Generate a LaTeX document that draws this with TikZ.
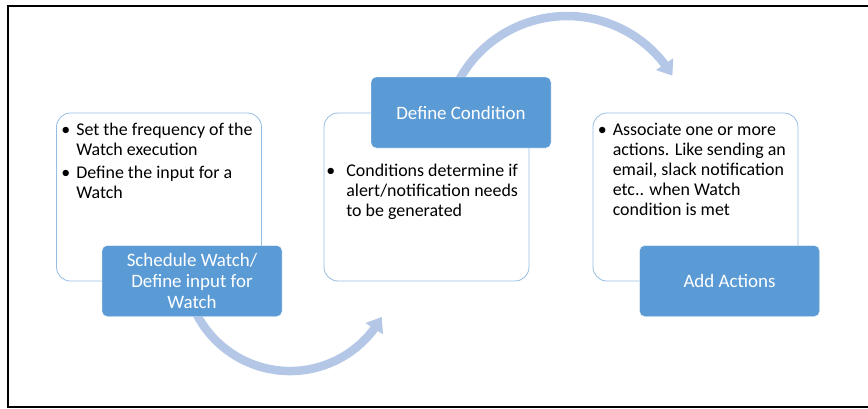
\documentclass[tikz,border=0pt]{standalone}
\usepackage{fontspec}
\setmainfont{Carlito}
\usetikzlibrary{positioning,arrows.meta,bending}

\definecolor{stepblue}{RGB}{91,155,213}
\definecolor{edgeblue}{RGB}{150,189,226}
\definecolor{flowblue}{RGB}{180,199,231}

% bullet and hanging indent for the note lists
\newcommand{\bul}[1][15bp]{\makebox[#1][l]{\textbullet}}
\newcommand{\ind}[1][15bp]{\hspace*{#1}}

\begin{document}
\begin{tikzpicture}[x=1bp, y=1bp,
    panel/.style={rectangle, draw=edgeblue, line width=0.8bp, rounded corners=14bp, minimum width=205bp, minimum height=168bp},
    stage/.style={rectangle, draw=white, fill=stepblue, rounded corners=5bp, minimum width=180bp, minimum height=71bp, text=white, align=center, font=\fontsize{19}{21}\selectfont},
    notes/.style={inner sep=0pt, align=left, font=\fontsize{18}{20}\selectfont},
    flow/.style={draw=flowblue, line width=8.5bp, -{Triangle[width=20bp,length=14bp,flex]}}
]
\useasboundingbox (0,0) rectangle (868,-408);

% frame, open on the right
\draw[line width=2bp] (868,-5.5) -- (7.5,-5.5) -- (7.5,-406.5) -- (868,-406.5);

% panels behind the steps
\node[panel] (schedbox) at (159,-197) {};
\node[panel] (condbox)  at (426.5,-197) {};
\node[panel] (actbox)   at (695.5,-197) {};

\node[notes, below right=10.5bp and 5bp of schedbox.north west] (schednotes)
  {\bul Set the frequency of the\\ \ind Watch execution\\[3bp]
   \bul Define the input for a\\ \ind Watch};
\node[notes, below right=51.5bp and 2.5bp of condbox.north west] (condnotes)
  {\bul[16bp] Conditions determine if\\ \ind[16bp] alert/notification needs\\ \ind[16bp] to be generated};
\node[notes, below right=10.5bp and 5bp of actbox.north west] (actnotes)
  {\bul Associate one or more\\ \ind actions. Like sending an\\ \ind email, slack notification\\
   \ind etc.. when Watch\\ \ind condition is met};

% curved arrows between the steps
\coordinate (lowstart)  at (194.8,-310.4);
\coordinate (highstart) at (458.4,-81.3);
\draw[flow] (lowstart) arc[start angle=205, end angle=331, radius=105];
\draw[flow] (highstart) arc[start angle=152, end angle=31, radius=123];

% the three steps
\node[stage] (sched) at (192,-281)    {Schedule Watch/\\Define input for\\Watch};
\node[stage] (cond)  at (461,-112.5)  {Define Condition};
\node[stage] (act)   at (729.5,-281)  {Add Actions};
\end{tikzpicture}
\end{document}
